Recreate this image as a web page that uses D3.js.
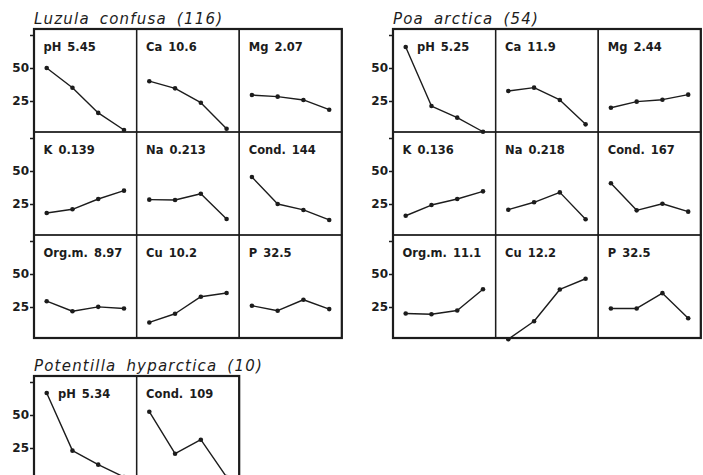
<!DOCTYPE html>
<html>
<head>
<meta charset="utf-8">
<script src="https://cdn.jsdelivr.net/npm/d3@7"></script>
<style>
  body { margin: 0; background: #fff; }
  svg { display: block; }
  .title { font-family: "DejaVu Sans", sans-serif; font-style: italic; font-size: 15px; letter-spacing: 1.2px; word-spacing: 4px; fill: #1c1c1c; }
  .plabel { font-family: "DejaVu Sans", sans-serif; font-weight: bold; font-size: 11.5px; fill: #1c1c1c; word-spacing: 2px; }
  .tick text { font-family: "DejaVu Sans", sans-serif; font-weight: bold; font-size: 12px; fill: #1c1c1c; }
</style>
</head>
<body>
<div id="chart"></div>
<script>

// species groups and sample sizes
var luzulaTitle = "Luzula confusa (116)";
var poaTitle = "Poa arctica (54)";
var potentillaTitle = "Potentilla hyparctica (10)";

// panel labels (variable + mean)
var luzulaLabels = ["pH 5.45", "Ca 10.6", "Mg 2.07", "K 0.139", "Na 0.213", "Cond. 144", "Org.m. 8.97", "Cu 10.2", "P 32.5"];
var poaLabels = ["pH 5.25", "Ca 11.9", "Mg 2.44", "K 0.136", "Na 0.218", "Cond. 167", "Org.m. 11.1", "Cu 12.2", "P 32.5"];
var potentillaLabels = ["pH 5.34", "Cond. 109"];

// four class values per panel
var luzulaValues = [
    [50, 35, 16, 3],
    [40, 34.6, 23.7, 4],
    [29.5, 28.3, 25.8, 18.4],
    [18.2, 21, 28.8, 35.1],
    [28.3, 28, 32.8, 13.6],
    [45.5, 25, 20.5, 12.9],
    [29.4, 21.8, 25.1, 23.9],
    [13.3, 19.9, 32.8, 35.6],
    [26, 22.2, 30.5, 23.4]
];
var poaValues = [
    [65.9, 21.2, 12.4, 1.7],
    [32.6, 35.1, 25.8, 7.3],
    [19.9, 24.5, 26, 29.8],
    [16.1, 24.2, 28.8, 34.6],
    [20.7, 26.3, 33.8, 13.4],
    [40.7, 20.2, 25.2, 19.2],
    [20.1, 19.5, 22.3, 38.5],
    [0.6, 14.2, 38.3, 46.4],
    [23.9, 23.9, 35.5, 16.5]
];
var potentillaValues = [
    [66.7, 23, 12.4, 3],
    [52.5, 20.7, 31.3, 3]
];

var yTicks = [25, 50, 75];
var yTickLabels = ["25", "50", ""];
var classes = [1, 2, 3, 4];

function drawGroup(svg, title, labels, values, left, top, cols) {

    var pw = 102.6, ph = 103;
    var rows = Math.ceil(values.length / cols);

    var g = svg.append("g")
        .attr("transform", "translate(" + left + "," + top + ")");

    g.append("text")
        .attr("class", "title")
        .attr("x", 0)
        .attr("y", -5)
        .text(title);

    var x = d3.scalePoint()
        .domain(classes)
        .range([12.7, 90]);

    var y = d3.scaleLinear()
        .domain([0, 50])
        .range([105, 39]);

    var line = d3.line()
        .x(function(d, i) { return x(classes[i]); })
        .y(function(d) { return y(d); });

    // left axis on each row
    for (var r = 0; r < rows; r++) {
        g.append("g")
            .attr("class", "tick-axis")
            .attr("transform", "translate(0," + (r * ph) + ")")
            .call(d3.axisLeft(y).tickValues(yTicks).tickSize(4).tickPadding(1)
                .tickFormat(function(d, i) { return yTickLabels[i]; }))
            .call(function(a) { a.select(".domain").remove(); })
            .call(function(a) { a.selectAll("line").attr("stroke", "#1c1c1c").attr("stroke-width", 1.5); });
    }

    var panels = g.selectAll("g.panel")
        .data(values)
        .join("g")
        .attr("class", "panel")
        .attr("transform", function(d, i) {
            return "translate(" + ((i % cols) * pw) + "," + (Math.floor(i / cols) * ph) + ")";
        });

    panels.append("rect")
        .attr("width", pw)
        .attr("height", ph)
        .attr("fill", "none")
        .attr("stroke", "#1c1c1c")
        .attr("stroke-width", 1.3);

    panels.append("text")
        .attr("class", "plabel")
        .attr("x", function(d) { return d[0] > 58 ? 24 : 9.5; })
        .attr("y", 22)
        .text(function(d, i) { return labels[i]; });

    panels.append("path")
        .attr("fill", "none")
        .attr("stroke", "#1c1c1c")
        .attr("stroke-width", 1.4)
        .attr("stroke-linejoin", "round")
        .attr("d", function(d) { return line(d); });

    panels.selectAll("circle")
        .data(function(d) { return d; })
        .join("circle")
        .attr("cx", function(d, i) { return x(classes[i]); })
        .attr("cy", function(d) { return y(d); })
        .attr("r", 2.3)
        .attr("fill", "#1c1c1c");

    // heavier outer frame
    g.append("rect")
        .attr("width", pw * cols)
        .attr("height", ph * rows)
        .attr("fill", "none")
        .attr("stroke", "#1c1c1c")
        .attr("stroke-width", 2.2);
}

var svg = d3.select("#chart").append("svg")
    .attr("width", 703)
    .attr("height", 475);

drawGroup(svg, luzulaTitle, luzulaLabels, luzulaValues, 34, 29, 3);
drawGroup(svg, poaTitle, poaLabels, poaValues, 393, 29, 3);
drawGroup(svg, potentillaTitle, potentillaLabels, potentillaValues, 34, 376, 2);

</script>
</body>
</html>
